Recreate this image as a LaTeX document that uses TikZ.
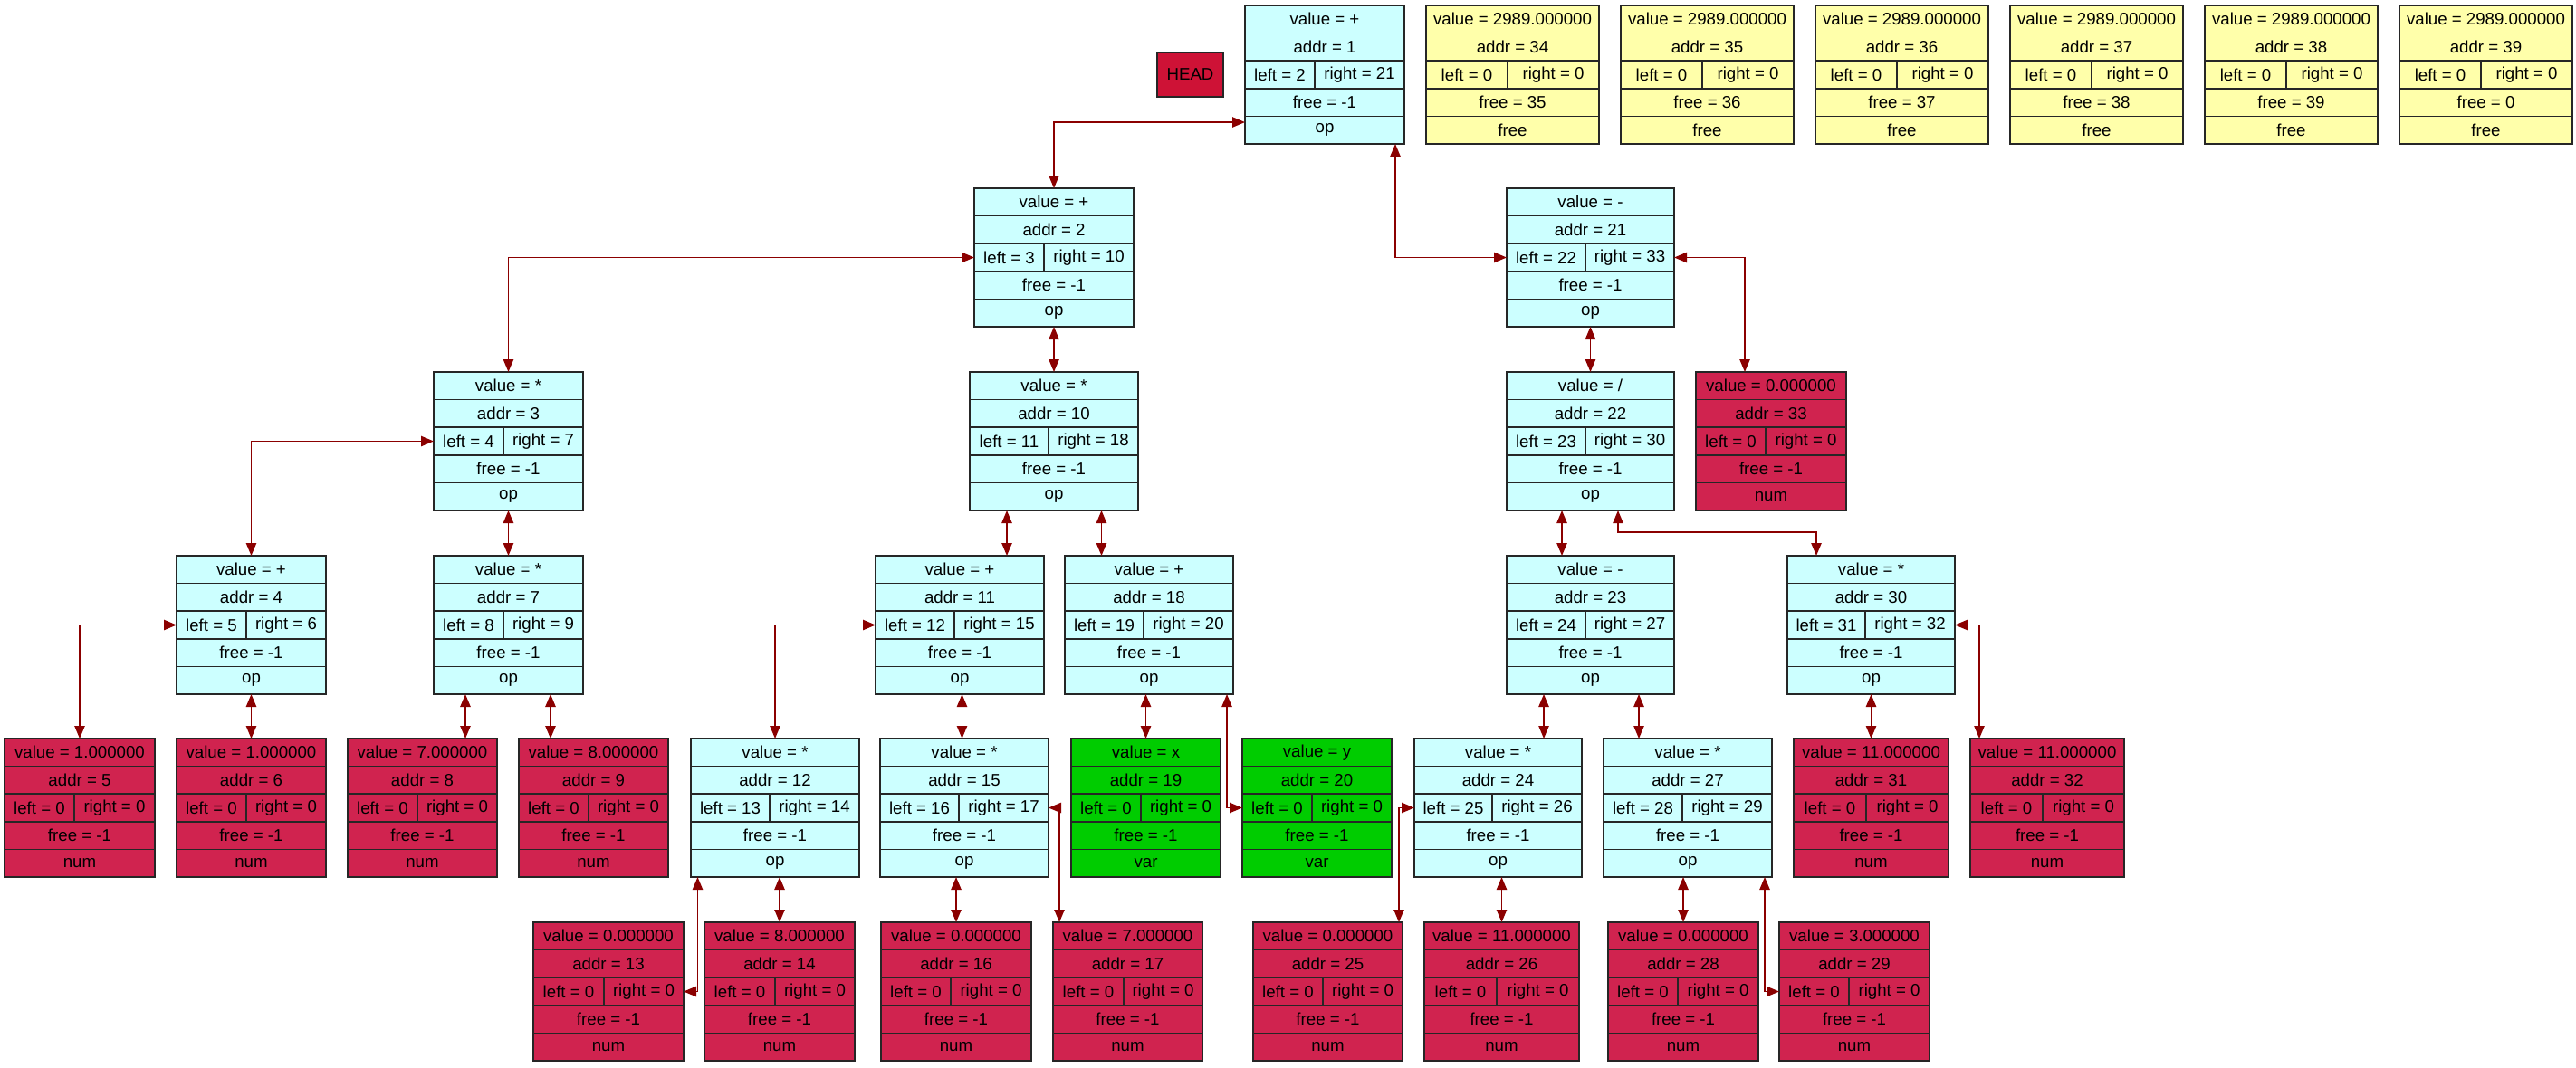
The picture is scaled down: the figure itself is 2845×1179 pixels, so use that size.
\documentclass[tikz,border=0pt]{standalone}
\usepackage{fontspec}
\setmainfont{Liberation Sans}
\usetikzlibrary{arrows.meta,calc}

\definecolor{opc}{HTML}{CCFFFF}
\definecolor{numc}{HTML}{D0234F}
\definecolor{varc}{HTML}{00CC00}
\definecolor{freec}{HTML}{FFFFAA}
\definecolor{headc}{HTML}{CE1236}
\definecolor{linkc}{HTML}{8B0000}

\tikzset{
  cell/.style={draw=black!85, line width=1.1pt, inner sep=0pt, outer sep=0pt,
    minimum height=22.95pt, font=\fontsize{14}{16}\selectfont, text=black},
  link/.style={draw=linkc, line width=1.1pt,
    {Triangle[length=10.5pt,width=8.5pt]}-{Triangle[length=10.5pt,width=8.5pt]}},
}

% one memory cell: name, left x, right x, top y, split x, fill
\newcommand\rec[6]{\def\rnm{#1}\def\rxa{#2}\def\rxb{#3}\def\ryt{#4}\def\rxs{#5}\def\rfl{#6}\recfields}
% its fields: value, addr, left, right, free, kind
\newcommand\recfields[6]{%
  \pgfmathsetmacro\rw{(\rxb-\rxa)*0.75}%
  \pgfmathsetmacro\rwl{(\rxs-\rxa)*0.75}%
  \pgfmathsetmacro\rwr{(\rxb-\rxs)*0.75}%
  \pgfmathsetmacro\rcx{(\rxa+\rxb)/2}%
  \pgfmathsetmacro\rcl{(\rxa+\rxs)/2}%
  \pgfmathsetmacro\rcr{(\rxs+\rxb)/2}%
  \node[cell,fill=\rfl,minimum width=\rw pt] (\rnm v) at ({\rcx},{\ryt+15.3}) {value = #1};
  \node[cell,fill=\rfl,minimum width=\rw pt] (\rnm a) at ({\rcx},{\ryt+45.9}) {addr = #2};
  \node[cell,fill=\rfl,minimum width=\rwl pt] (\rnm l) at ({\rcl},{\ryt+76.5}) {left = #3};
  \node[cell,fill=\rfl,minimum width=\rwr pt] (\rnm r) at ({\rcr},{\ryt+76.5}) {right = #4};
  \node[cell,fill=\rfl,minimum width=\rw pt] (\rnm f) at ({\rcx},{\ryt+107.1}) {free = #5};
  \node[cell,fill=\rfl,minimum width=\rw pt] (\rnm t) at ({\rcx},{\ryt+137.7}) {#6};
}

\begin{document}
\begin{tikzpicture}[x=0.75pt,y=-0.75pt]
\useasboundingbox (0,0) rectangle (2845,1179);
\fill[white] (0,0) rectangle (2845,1179);

\node[cell,fill=headc,minimum width=54.75pt,minimum height=36.75pt] (head) at (1314.5,82.5) {HEAD};

% operator cells
\rec{n1}{1375}{1551}{6}{1452}{opc}{+}{1}{2}{21}{-1}{op}
\rec{n2}{1076}{1252}{208}{1153}{opc}{+}{2}{3}{10}{-1}{op}
\rec{n21}{1664}{1849}{208}{1751}{opc}{-}{21}{22}{33}{-1}{op}
\rec{n3}{479}{644}{411}{556}{opc}{*}{3}{4}{7}{-1}{op}
\rec{n10}{1071}{1257}{411}{1158}{opc}{*}{10}{11}{18}{-1}{op}
\rec{n22}{1664}{1849}{411}{1751}{opc}{/}{22}{23}{30}{-1}{op}
\rec{n4}{195}{360}{614}{272}{opc}{+}{4}{5}{6}{-1}{op}
\rec{n7}{479}{644}{614}{556}{opc}{*}{7}{8}{9}{-1}{op}
\rec{n11}{967}{1153}{614}{1054}{opc}{+}{11}{12}{15}{-1}{op}
\rec{n18}{1176}{1362}{614}{1263}{opc}{+}{18}{19}{20}{-1}{op}
\rec{n23}{1664}{1849}{614}{1751}{opc}{-}{23}{24}{27}{-1}{op}
\rec{n30}{1974}{2159}{614}{2060}{opc}{*}{30}{31}{32}{-1}{op}
\rec{n12}{763}{949}{816}{850}{opc}{*}{12}{13}{14}{-1}{op}
\rec{n15}{972}{1158}{816}{1059}{opc}{*}{15}{16}{17}{-1}{op}
\rec{n24}{1562}{1747}{816}{1648}{opc}{*}{24}{25}{26}{-1}{op}
\rec{n27}{1771}{1957}{816}{1858}{opc}{*}{27}{28}{29}{-1}{op}

% number cells
\rec{n33}{1873}{2039}{411}{1950}{numc}{0.000000}{33}{0}{0}{-1}{num}
\rec{n5}{5}{171}{816}{82}{numc}{1.000000}{5}{0}{0}{-1}{num}
\rec{n6}{195}{360}{816}{272}{numc}{1.000000}{6}{0}{0}{-1}{num}
\rec{n8}{384}{549}{816}{461}{numc}{7.000000}{8}{0}{0}{-1}{num}
\rec{n9}{573}{738}{816}{650}{numc}{8.000000}{9}{0}{0}{-1}{num}
\rec{n31}{1981}{2152}{816}{2061}{numc}{11.000000}{31}{0}{0}{-1}{num}
\rec{n32}{2176}{2346}{816}{2256}{numc}{11.000000}{32}{0}{0}{-1}{num}
\rec{n13}{589}{755}{1019}{667}{numc}{0.000000}{13}{0}{0}{-1}{num}
\rec{n14}{778}{944}{1019}{856}{numc}{8.000000}{14}{0}{0}{-1}{num}
\rec{n16}{973}{1139}{1019}{1050}{numc}{0.000000}{16}{0}{0}{-1}{num}
\rec{n17}{1163}{1328}{1019}{1241}{numc}{7.000000}{17}{0}{0}{-1}{num}
\rec{n25}{1384}{1549}{1019}{1461}{numc}{0.000000}{25}{0}{0}{-1}{num}
\rec{n26}{1573}{1744}{1019}{1653}{numc}{11.000000}{26}{0}{0}{-1}{num}
\rec{n28}{1776}{1942}{1019}{1853}{numc}{0.000000}{28}{0}{0}{-1}{num}
\rec{n29}{1965}{2131}{1019}{2042}{numc}{3.000000}{29}{0}{0}{-1}{num}

% variable cells
\rec{n19}{1183}{1348}{816}{1260}{varc}{x}{19}{0}{0}{-1}{var}
\rec{n20}{1372}{1537}{816}{1449}{varc}{y}{20}{0}{0}{-1}{var}

% free list
\rec{n34}{1575}{1766}{6}{1665}{freec}{2989.000000}{34}{0}{0}{35}{free}
\rec{n35}{1790}{1981}{6}{1880}{freec}{2989.000000}{35}{0}{0}{36}{free}
\rec{n36}{2005}{2196}{6}{2095}{freec}{2989.000000}{36}{0}{0}{37}{free}
\rec{n37}{2220}{2411}{6}{2310}{freec}{2989.000000}{37}{0}{0}{38}{free}
\rec{n38}{2435}{2626}{6}{2525}{freec}{2989.000000}{38}{0}{0}{39}{free}
\rec{n39}{2650}{2841}{6}{2740}{freec}{2989.000000}{39}{0}{0}{0}{free}

% parent <-> child links
\draw[link] (n2v.north) |- ($(n1t.west)+(0,-8.7)$);
\draw[link] ($(n1t.south)+(78,0)$) |- (n21l.west);
\draw[link] (n2l.west) -| (n3v.north);
\draw[link] (n2t.south) -- (n10v.north);
\draw[link] (n21r.east) -| ($(n33v.north)+(-29,0)$);
\draw[link] (n21t.south) -- (n22v.north);
\draw[link] (n3l.west) -| (n4v.north);
\draw[link] (n3t.south) -- (n7v.north);
\draw[link] ($(n10t.south)+(-52,0)$) -- ($(n11v.north)+(52,0)$);
\draw[link] ($(n10t.south)+(52.5,0)$) -- ($(n18v.north)+(-52.5,0)$);
\draw[link] ($(n22t.south)+(-31.5,0)$) -- ($(n23v.north)+(-31.5,0)$);
\draw[link] ($(n22t.south)+(30.5,0)$) -- ++(0,24) -| ($(n30v.north)+(-60.5,0)$);
\draw[link] (n4l.west) -| (n5v.north);
\draw[link] (n4t.south) -- (n6v.north);
\draw[link] ($(n7t.south)+(-47.5,0)$) -- ($(n8v.north)+(47.5,0)$);
\draw[link] ($(n7t.south)+(46.5,0)$) -- ($(n9v.north)+(-47.5,0)$);
\draw[link] (n11l.west) -| (n12v.north);
\draw[link] ($(n11t.south)+(2.5,0)$) -- ($(n15v.north)+(-2.5,0)$);
\draw[link] ($(n18t.south)+(-3.5,0)$) -- (n19v.north);
\draw[link] ($(n18t.south)+(86,0)$) |- (n20l.west);
\draw[link] ($(n23t.south)+(-51.5,0)$) -- ($(n24v.north)+(50.5,0)$);
\draw[link] ($(n23t.south)+(53.5,0)$) -- ($(n27v.north)+(-54,0)$);
\draw[link] (n30t.south) -- (n31v.north);
\draw[link] (n30r.east) -| ($(n32v.north)+(-75,0)$);
\draw[link] ($(n12t.south)+(-85.5,0)$) |- (n13r.east);
\draw[link] ($(n12t.south)+(5,0)$) -- (n14v.north);
\draw[link] ($(n15t.south)+(-9,0)$) -- (n16v.north);
\draw[link] (n15r.east) -| ($(n17v.north)+(-75.5,0)$);
\draw[link] (n24l.west) -| ($(n25v.north)+(78.5,0)$);
\draw[link] ($(n24t.south)+(4,0)$) -- (n26v.north);
\draw[link] ($(n27t.south)+(-5,0)$) -- (n28v.north);
\draw[link] ($(n27t.south)+(85,0)$) |- (n29l.west);
\end{tikzpicture}
\end{document}
